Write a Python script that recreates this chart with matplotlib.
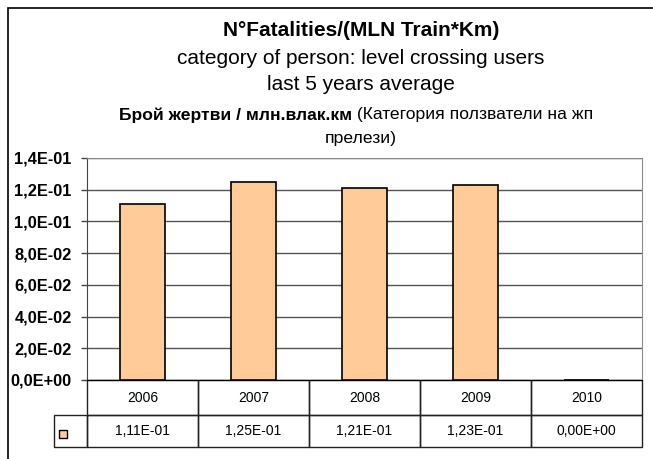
import matplotlib
matplotlib.use("Agg")
import matplotlib.pyplot as plt
from matplotlib.patches import Rectangle
from matplotlib.ticker import FuncFormatter, MultipleLocator

plt.rcParams['font.family'] = ['Liberation Sans', 'DejaVu Sans']

years = ["2006", "2007", "2008", "2009", "2010"]
rates = [0.111, 0.125, 0.121, 0.123, 0.0]

title_lines = ["N°Fatalities/(MLN Train*Km)",
               "category of person: level crossing users",
               "last 5 years average"]
bg_bold = "Брой жертви / млн.влак.км"
bg_regular = " (Категория ползватели на жп"
bg_wrap = "прелези)"

bar_color = "#FFCC99"
W, H = 653, 459


def sci_comma(v, digits):
    return f"{v:.{digits}E}".replace(".", ",")


def fx(px):
    return px / W


def fy(py):
    return 1 - py / H


fig = plt.figure(figsize=(W / 100, H / 100), dpi=100)

# outer chart border (right and bottom run off the picture)
fig.patches.append(Rectangle((fx(8), -0.05), 1.1, fy(8) + 0.05, transform=fig.transFigure,
                             fill=False, edgecolor='black', linewidth=1.2))

ax = fig.add_axes([fx(87), fy(380), fx(642) - fx(87), fy(158) - fy(380)])
x = list(range(len(years)))
ax.bar(x, rates, width=0.4, color=bar_color, edgecolor='black', linewidth=1.2, zorder=3)
ax.set_xlim(-0.5, len(years) - 0.5)
ax.set_ylim(0, 0.14)
ax.yaxis.set_major_locator(MultipleLocator(0.02))
ax.yaxis.set_major_formatter(FuncFormatter(lambda v, p: sci_comma(v, 1)))
ax.set_xticks([])
ax.grid(axis='y', color='#555555', linewidth=1, zorder=0)
ax.tick_params(axis='y', length=4, width=1, color='#444444', labelsize=11.8, pad=7)
plt.setp(ax.get_yticklabels(), fontweight='bold')
for side in ['top', 'right']:
    ax.spines[side].set_color('#8c8c8c')
ax.spines['left'].set_color('#444444')
ax.spines['bottom'].set_color('black')

# data table under the axis: x in data units, y in axes units
ax_h = 380 - 158
row1 = 35 / ax_h
row2 = 32 / ax_h
leg_w = 33 / 111
tr = ax.get_xaxis_transform()
cell_kw = dict(transform=tr, clip_on=False, fill=False, edgecolor='#222222', linewidth=1)
for j, yr in enumerate(years):
    ax.add_patch(Rectangle((j - 0.5, -row1), 1, row1, **cell_kw))
    ax.add_patch(Rectangle((j - 0.5, -row1 - row2), 1, row2, **cell_kw))
    ax.text(j, -row1 / 2, yr, transform=tr, ha='center', va='center', fontsize=10)
    ax.text(j, -row1 - row2 / 2, sci_comma(rates[j], 2), transform=tr,
            ha='center', va='center', fontsize=10)
ax.add_patch(Rectangle((-0.5 - leg_w, -row1 - row2), leg_w, row2, **cell_kw))

# legend key in the table
fig.patches.append(Rectangle((fx(59), fy(438)), fx(8), 8 / H, transform=fig.transFigure,
                             facecolor=bar_color, edgecolor='black', linewidth=1))

# titles
cx = fx(361)
fig.text(cx, fy(30), title_lines[0], ha='center', va='center', fontsize=15, fontweight='bold')
fig.text(cx, fy(58), title_lines[1], ha='center', va='center', fontsize=15)
fig.text(cx, fy(85), title_lines[2], ha='center', va='center', fontsize=15)

t1 = fig.text(0, fy(115), bg_bold, ha='left', va='center', fontsize=12.6, fontweight='bold')
t2 = fig.text(0, fy(115), bg_regular, ha='left', va='center', fontsize=12.6)
r = fig.canvas.get_renderer()
w1 = t1.get_window_extent(r).width
w2 = t2.get_window_extent(r).width
start = 356 - (w1 + w2) / 2
t1.set_x(fx(start))
t2.set_x(fx(start + w1))
fig.text(cx, fy(138), bg_wrap, ha='center', va='center', fontsize=12.6)

fig.savefig("out.png", dpi=100)
